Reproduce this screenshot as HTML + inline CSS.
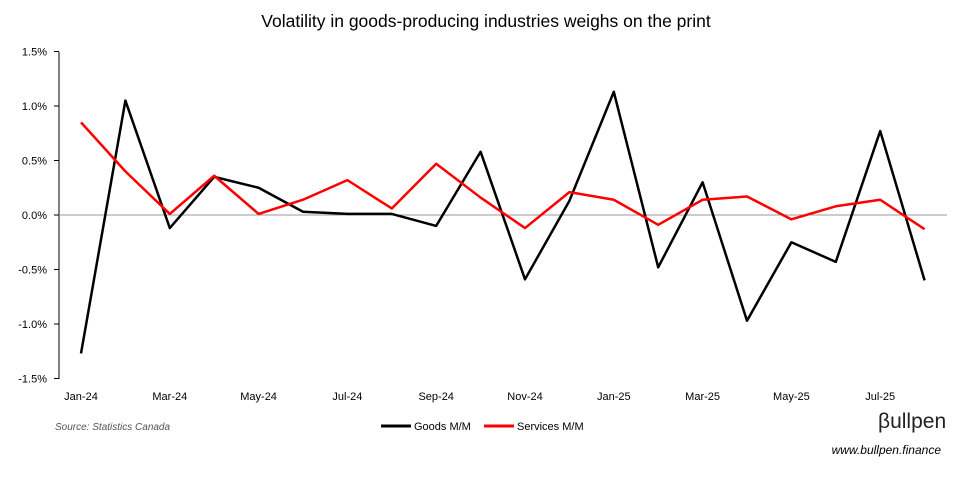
<!DOCTYPE html>
<html><head><meta charset="utf-8"><style>
body{margin:0;background:#fff;font-family:"Liberation Sans",sans-serif}
svg text{font-family:"Liberation Sans",sans-serif}
</style></head><body>
<svg width="973" height="474">
<text x="486" y="27" text-anchor="middle" font-size="17.5" fill="#000">Volatility in goods-producing industries weighs on the print</text>
<g id="axes"></g>
<g id="series"></g>
<text x="55" y="430" font-size="10" font-style="italic" fill="#555">Source: Statistics Canada</text>
<line x1="381" y1="426" x2="411" y2="426" stroke="#000" stroke-width="3"/>
<text x="414" y="430" font-size="11">Goods M/M</text>
<line x1="484" y1="426" x2="514" y2="426" stroke="#f00" stroke-width="3"/>
<text x="517" y="430" font-size="11">Services M/M</text>
<text x="878" y="428" font-size="21" fill="#222">βullpen</text>
<text x="941" y="454" text-anchor="end" font-size="12" font-style="italic">www.bullpen.finance</text>
</svg>
<script>
const months=["Jan-24","Feb-24","Mar-24","Apr-24","May-24","Jun-24","Jul-24","Aug-24","Sep-24","Oct-24","Nov-24","Dec-24","Jan-25","Feb-25","Mar-25","Apr-25","May-25","Jun-25","Jul-25","Aug-25"];
const goods=[-1.27,1.05,-0.12,0.35,0.25,0.03,0.01,0.01,-0.10,0.58,-0.59,0.13,1.13,-0.48,0.30,-0.97,-0.25,-0.43,0.77,-0.60];
const services=[0.85,0.40,0.01,0.36,0.01,0.14,0.32,0.06,0.47,0.16,-0.12,0.21,0.14,-0.09,0.14,0.17,-0.04,0.08,0.14,-0.13];
const yTicks=[1.5,1.0,0.5,0.0,-0.5,-1.0,-1.5];
const NS="http://www.w3.org/2000/svg";
const x=i=>81+i*44.4;
const y=v=>215-v*109;
const axes=document.getElementById('axes'),ser=document.getElementById('series');
function mk(tag,at,p){const e=document.createElementNS(NS,tag);for(const k in at)e.setAttribute(k,at[k]);p.appendChild(e);return e;}
let l=mk('line',{x1:59,y1:52,x2:59,y2:379,stroke:'#000','stroke-width':1},axes);


yTicks.forEach(v=>{
 const t=mk('text',{x:47,y:y(v)+4,'text-anchor':'end','font-size':11},axes);
 t.textContent=v.toFixed(1)+'%';
 
 
 mk('line',{x1:54,y1:y(v),x2:59,y2:y(v),stroke:'#000'},axes);
});
l=mk('line',{x1:59,y1:215,x2:947,y2:215,stroke:'#999','stroke-width':1},axes);


months.forEach((m,i)=>{
 if(i%2==0){const t=mk('text',{x:x(i),y:400,'text-anchor':'middle','font-size':11},axes);
 t.textContent=m;
 
 }
});
function line(d,c,n){
 const p=mk('polyline',{points:d.map((v,i)=>x(i)+','+y(v)).join(' '),fill:'none',stroke:c,'stroke-width':2.5,'stroke-linejoin':'round'},ser);
 
 
}
line(goods,'#000','goods-line');
line(services,'#f00','services-line');
</script>
</body></html>
